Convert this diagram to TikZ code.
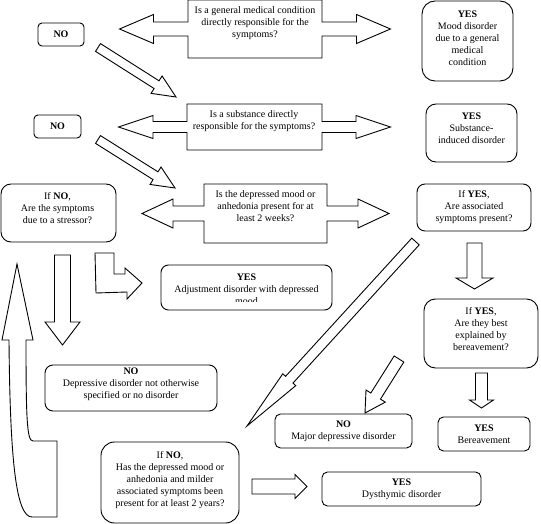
\documentclass[tikz,border=0pt]{standalone}
\usepackage{fontspec}
\setmainfont{Liberation Serif}
\usetikzlibrary{calc}

\tikzset{arrowline/.style={draw, line width=0.9pt, line join=miter, fill=white}}

% block arrow: tail, tip, half body width, half head width, head length
\newcommand{\blockarrow}[5]{%
  \coordinate (ba-h) at ($(#2)!#5!(#1)$);
  \draw[arrowline] ($(#1)!#3!90:(#2)$) -- ($(ba-h)!#3!-90:(#1)$)
    -- ($(ba-h)!#4!-90:(#1)$) -- (#2) -- ($(ba-h)!#4!90:(#1)$)
    -- ($(ba-h)!#3!90:(#1)$) -- ($(#1)!#3!-90:(#2)$) -- cycle;}

% question box with arrows to both sides: node, half body, half head, head base, tip
\newcommand{\twowaybox}[5]{%
  \draw[arrowline] (#1.north west) -- (#1.north east)
    -- ($(#1.east)+(0,-#2)$) -- ($(#1.east)+(#4,-#2)$) -- ($(#1.east)+(#4,-#3)$)
    -- ($(#1.east)+(#5,0)$) -- ($(#1.east)+(#4,#3)$) -- ($(#1.east)+(#4,#2)$)
    -- ($(#1.east)+(0,#2)$) -- (#1.south east) -- (#1.south west)
    -- ($(#1.west)+(0,#2)$) -- ($(#1.west)+(-#4,#2)$) -- ($(#1.west)+(-#4,#3)$)
    -- ($(#1.west)+(-#5,0)$) -- ($(#1.west)+(-#4,-#3)$) -- ($(#1.west)+(-#4,-#2)$)
    -- ($(#1.west)+(0,-#2)$) -- cycle;}

\begin{document}
\begin{tikzpicture}[x=1pt,y=-1pt,
  every node/.style={font=\fontsize{10}{12}\selectfont},
  rbox/.style={draw, line width=0.9pt, rounded corners=#1, inner sep=0pt, outer sep=0pt, align=center},
  rbox/.default=6pt,
  qbox/.style={inner sep=0pt, outer sep=0pt},
  sz/.style 2 args={minimum width=#1pt, minimum height=#2pt},
  txt/.style={align=center, inner sep=0pt}]
\useasboundingbox (0,0) rectangle (541,524);

% question boxes
\node[qbox, sz={134}{58}] (q1) at (255,29) {};
\twowaybox{q1}{7}{14.5}{34.5}{68.5}
\node[txt] (q1-t) at (255,23.5) {Is a general medical condition\\directly responsible for the\\symptoms?};

\node[qbox, sz={135}{46}] (q2) at (254.5,127) {};
\twowaybox{q2}{5.5}{11.5}{34}{68.5}
\node[txt] (q2-t) at (254,121) {Is a substance directly\\responsible for the symptoms?};

\node[qbox, sz={123}{59}] (q3) at (265.5,213.5) {};
\twowaybox{q3}{7.5}{14.5}{31}{62}
\node[txt] (q3-t) at (265.5,206) {Is the depressed mood or\\anhedonia present for at\\least 2 weeks?};

% answer boxes
\node[rbox=4pt, sz={46}{23}] (no1) at (61,34.5) {\textbf{NO}};
\node[rbox=13pt, sz={91}{80}] (yes1) at (467.5,41) {};
\node[txt] (yes1-t) at (467.5,38.5) {\textbf{YES}\\Mood disorder\\due to a general\\medical\\condition};

\node[rbox=4pt, sz={47}{23}] (no2) at (57.5,126.5) {\textbf{NO}};
\node[rbox=10pt, sz={91}{58}] (yes2) at (471.5,133) {};
\node[txt] (yes2-t) at (471.5,128.5) {\textbf{YES}\\Substance-\\induced disorder};

\node[rbox=10pt, sz={115}{58}] (ifno) at (58.5,213) {};
\node[txt] (ifno-t) at (57.5,208) {If \textbf{NO},\\Are the symptoms\\due to a stressor?};
\node[rbox=8pt, sz={114}{47}] (ifyes) at (474,207.5) {If \textbf{YES},\\Are associated\\symptoms present?};

\node[rbox=7.5pt, sz={171}{45}] (adj) at (246.5,287.5) {};
\begin{scope}
\clip (adj.north west) rectangle ($(adj.south east)+(0,-9)$);
\node[txt] (adj-t) at (246.5,289) {\textbf{YES}\\Adjustment disorder with depressed\\mood};
\end{scope}

\node[rbox=11.5pt, sz={114}{69}] (best) at (481,333.5) {};
\node[txt] (best-t) at (481,329.5) {If \textbf{YES},\\Are they best\\explained by\\bereavement?};

\node[rbox=8pt, sz={172}{46}] (nos) at (131,388) {};
\node[txt] (nos-t) at (131,384) {\textbf{NO}\\Depressive disorder not otherwise\\specified or no disorder};

\node[rbox=5.5pt, sz={137}{34}] (mdd) at (343.5,431) {\textbf{NO}\\Major depressive disorder};
\node[rbox=5.5pt, sz={92}{34}] (ber) at (484,434) {\textbf{YES}\\Bereavement};
\node[rbox=5.5pt, sz={159}{34}] (dys) at (401.5,489) {\textbf{YES}\\Dysthymic disorder};

\node[rbox=13.5pt, sz={138}{81}] (ifno2) at (170,482.5) {};
\node[txt] (ifno2-t) at (170,480.5) {If \textbf{NO},\\Has the depressed mood or\\anhedonia and milder\\associated symptoms been\\present for at least 2 years?};

% block arrows
\coordinate (no1-out) at (98,47.5);
\coordinate (q2-in) at (176,97);
\blockarrow{no1-out}{q2-in}{4.6pt}{10.3pt}{23pt}
\coordinate (no2-out) at (98,139.5);
\coordinate (q3-in) at (175,188);
\blockarrow{no2-out}{q3-in}{4.6pt}{10.3pt}{23pt}

\coordinate (ifyes-no) at (415.5,241.5);
\coordinate (ifno2-in) at (247,426);
\blockarrow{ifyes-no}{ifno2-in}{5pt}{8.8pt}{62.7pt}

\coordinate (ifyes-out) at (474.5,243);
\coordinate (best-in) at (474.5,289);
\blockarrow{ifyes-out}{best-in}{7.5pt}{18.5pt}{11pt}

\coordinate (best-no) at (399,359);
\coordinate (mdd-in) at (365,413);
\blockarrow{best-no}{mdd-in}{5.7pt}{11.4pt}{20pt}

\coordinate (best-yes) at (481.5,373);
\coordinate (ber-in) at (481.5,408);
\blockarrow{best-yes}{ber-in}{6pt}{12pt}{8pt}

\coordinate (ifno-out) at (62.5,255);
\coordinate (nos-in) at (62.5,345);
\blockarrow{ifno-out}{nos-in}{8pt}{17.5pt}{23pt}

\coordinate (ifno2-out) at (252,486.5);
\coordinate (dys-in) at (307,486.5);
\blockarrow{ifno2-out}{dys-in}{7.5pt}{12pt}{12pt}

% bent arrow to the adjustment box
\draw[arrowline] (95,253) -- (114,253) -- (114,274) -- (125,274) -- (125,268)
  -- (142,283) -- (127,299) -- (127,292) -- (96,293) -- cycle;

% curved arrow going up on the left
\draw[arrowline] (17,264) -- (33,340) -- (26,340)
  .. controls (26,420) and (27,441) .. (33,441) -- (57,441) -- (57,517)
  -- (32,517) .. controls (16,517) and (10,460) .. (9,340) -- (2,340) -- cycle;
\end{tikzpicture}
\end{document}
